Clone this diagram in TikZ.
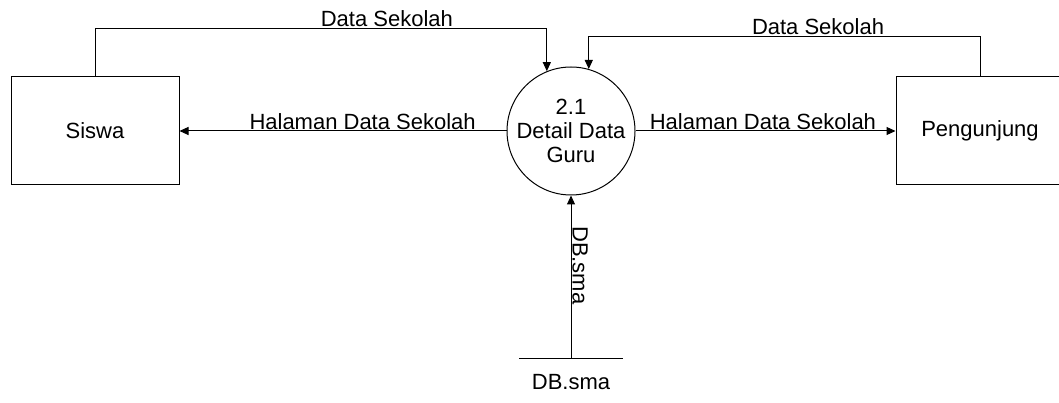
\documentclass[tikz,border=0pt]{standalone}
\usepackage{fontspec}
\setmainfont{Liberation Sans}
\usetikzlibrary{arrows.meta}

\begin{document}
\begin{tikzpicture}[x=1pt,y=-1pt,
    font=\fontsize{22}{24}\selectfont,
    entity/.style={rectangle, draw, line width=1pt, minimum width=168pt, minimum height=108pt},
    process/.style={circle, draw, line width=1pt, minimum size=128pt, inner sep=0pt},
    flow/.style={line width=1pt, -{Triangle[length=9pt,width=8pt]}},
    flowlabel/.style={above, inner sep=1pt}]
                \useasboundingbox (0,0) rectangle (1059,403);

                \node[entity] (S) at (95,131) {Siswa};
                \node[entity] (P) at (980,131) {Pengunjung};
                \node[process, label={[align=center]center:2.1\\Detail Data\\Guru}] (C) at (571,131) {};
                \coordinate (D) at (571,358);
                \node[inner sep=0pt] (DL) at (571,382) {DB.sma};

                \draw[line width=1pt] ([xshift=-52pt]D) -- ([xshift=52pt]D);

                \draw[flow] (S.north) -- ++(0,-48) -| node[flowlabel, pos=0.323] {Data Sekolah} (C.112);
                \draw[flow] (P.north) -- ++(0,-40) -| node[flowlabel, pos=0.207] {Data Sekolah} (C.74);
                \draw[flow] (C.west) -- node[flowlabel, pos=0.44] {Halaman Data Sekolah} (S.east);
                \draw[flow] (C.east) -- node[flowlabel, pos=0.49] {Halaman Data Sekolah} (P.west);
                \draw[flow] (D) -- node[pos=0.57, xshift=9pt, rotate=-90] {DB.sma} (C.south);
            \end{tikzpicture}
\end{document}
